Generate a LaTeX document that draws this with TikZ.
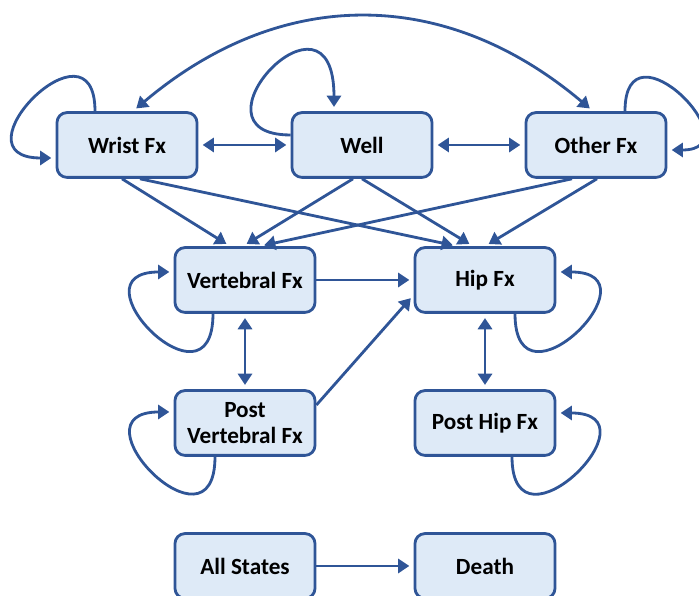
\documentclass[tikz,border=0pt]{standalone}
\usepackage{fontspec}
\setmainfont{Carlito}
\usetikzlibrary{arrows.meta}
\definecolor{fxblue}{RGB}{47,85,151}
\definecolor{fxfill}{RGB}{222,234,247}

\begin{document}
\begin{tikzpicture}[x=0.025cm, y=0.025cm, >={Triangle[length=8pt,width=10pt]},
    state/.style={draw=fxblue, fill=fxfill, line width=2pt, rounded corners=0.25cm, minimum width=3.5cm, minimum height=1.62cm, align=center, inner sep=2pt, font=\fontsize{16.5}{19}\selectfont\bfseries},
    link/.style={draw=fxblue, line width=2pt, ->, shorten >=3pt},
    twoway/.style={draw=fxblue, line width=2pt, <->, shorten >=3pt, shorten <=3pt}]
    \useasboundingbox (0,0) rectangle (699,596);
    \node[state] (wrist) at (127,451) {Wrist Fx};
    \node[state] (well) at (362,451) {Well};
    \node[state] (other) at (596,451) {Other Fx};
    \node[state] (vert) at (245,316) {Vertebral Fx};
    \node[state] (hip) at (485,316) {Hip Fx};
    \node[state] (postvert) at (245,173) {Post\\Vertebral Fx};
    \node[state] (posthip) at (485,173) {Post Hip Fx};
    \node[state] (all) at (245,30) {All States};
    \node[state] (death) at (485,30) {Death};
    \draw[twoway] (wrist) -- (well);
    \draw[twoway] (well) -- (other);
    \draw[twoway] ([xshift=0.15cm]wrist.north) .. controls +(148,125) and +(-148,125) .. ([xshift=-0.075cm]other.north);
    \draw[link] ([xshift=-0.8cm]wrist.north) .. controls +(0,100) and +(-105,0) .. ([yshift=-0.325cm]wrist.west);
    \draw[link] ([yshift=0.25cm]well.west) .. controls +(-110,0) and +(0,140) .. ([xshift=-0.7cm]well.north);
    \draw[link] ([xshift=0.725cm]other.north) .. controls +(0,95) and +(88,0) .. ([yshift=-0.125cm]other.east);
    \draw[link] ([xshift=-0.125cm]wrist.south) -- ([xshift=-0.375cm]vert.north);
    \draw[link] ([xshift=0.325cm]wrist.south) -- ([xshift=-0.7cm]hip.north);
    \draw[link] ([xshift=-0.225cm]well.south) -- ([xshift=-0.05cm]vert.north);
    \draw[link] (well.south) -- ([xshift=-0.3cm]hip.north);
    \draw[link] ([xshift=-0.6cm]other.south) -- ([xshift=0.375cm]vert.north);
    \draw[link] ([xshift=0.025cm]other.south) -- (hip.north);
    \draw[link] (vert) -- (hip);
    \draw[link] ([yshift=0.45cm]postvert.east) -- ([yshift=-0.375cm]hip.west);
    \draw[twoway] (vert) -- (postvert);
    \draw[twoway] (hip) -- (posthip);
    \draw[link] ([xshift=-0.8cm]vert.south) .. controls +(0,-105) and +(-105,0) .. ([yshift=0.2cm]vert.west);
    \draw[link] ([xshift=0.75cm]hip.south) .. controls +(0,-105) and +(105,0) .. ([yshift=0.2cm]hip.east);
    \draw[link] ([xshift=-0.75cm]postvert.south) .. controls +(0,-105) and +(-105,0) .. ([yshift=0.275cm]postvert.west);
    \draw[link] ([xshift=0.675cm]posthip.south) .. controls +(0,-105) and +(105,0) .. ([yshift=0.25cm]posthip.east);
    \draw[link] (all) -- (death);
\end{tikzpicture}
\end{document}
